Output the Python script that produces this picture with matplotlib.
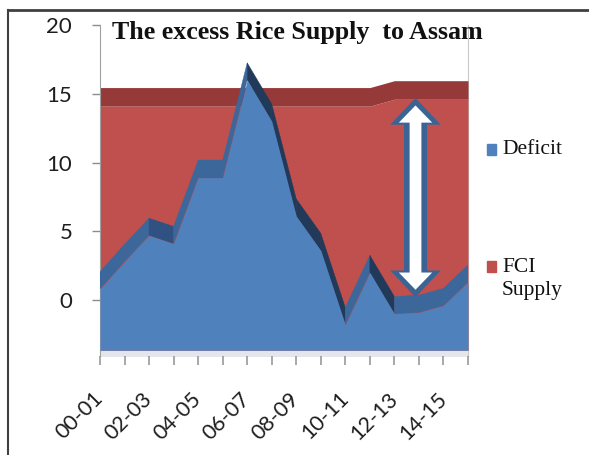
import numpy as np
import matplotlib.pyplot as plt
from matplotlib.patches import Polygon, Rectangle
from matplotlib.lines import Line2D

# data
years = ['00-01', '01-02', '02-03', '03-04', '04-05', '05-06', '06-07', '07-08',
         '08-09', '09-10', '10-11', '11-12', '12-13', '13-14', '14-15', '15-16']
deficit = [0.8, 2.8, 4.7, 4.1, 8.9, 8.9, 16.0, 13.0,
           6.1, 3.6, -1.8, 2.0, -1.0, -0.9, -0.4, 1.3]
fci_supply = [14.1, 14.1, 14.1, 14.1, 14.1, 14.1, 14.1, 14.1,
              14.1, 14.1, 14.1, 14.1, 14.6, 14.6, 14.6, 14.6]
yticks = [0, 5, 10, 15, 20]

# arrow showing the excess (category position, top, bottom)
arrow_x, arrow_top, arrow_bot = 12.86, 14.7, 0.2

FLOOR = -3.65
DEPTH = 1.25

BLUE = '#4f81bd'
BLUE_UP = '#3c679b'
BLUE_MID = '#2f5283'
BLUE_DOWN = '#213a5a'
RED = '#c0504d'
RED_TOP = '#953a38'

fig = plt.figure(figsize=(5.89, 4.55), dpi=100)
ax = fig.add_axes([100/589, 1-356/455, 368/589, 331/455])

x = np.arange(len(years))
dfc = np.array(deficit)
fci = np.array(fci_supply)

# back series (FCI supply) with its top band
ax.fill_between(x, FLOOR, fci, color=RED, lw=0, zorder=2)
ax.fill_between(x, fci, fci + DEPTH + 0.1, color=RED_TOP, lw=0, zorder=2)

# top band of the deficit area, shaded by slope
for i in range(len(x) - 1):
    y0, y1 = dfc[i], dfc[i+1]
    if y1 < y0 - 1.5:
        col = BLUE_DOWN
    elif y1 < y0 - 0.3:
        col = BLUE_MID
    else:
        col = BLUE_UP
    ax.add_patch(Polygon([(x[i], y0), (x[i+1], y1), (x[i+1], y1 + DEPTH), (x[i], y0 + DEPTH)],
                         closed=True, color=col, lw=0.3, zorder=3))
ax.fill_between(x, FLOOR, dfc, color=BLUE, lw=0, zorder=4)

# floor strip
ax.fill_between([0, 15], -4.2, FLOOR, color='#e3e7ec', lw=0, zorder=1)

# double headed arrow, sizes in data units
def arrow_poly(cx, top, bot, sw, hw, hl):
    return [(cx, top), (cx + hw, top - hl), (cx + sw, top - hl), (cx + sw, bot + hl),
            (cx + hw, bot + hl), (cx, bot), (cx - hw, bot + hl), (cx - sw, bot + hl),
            (cx - sw, top - hl), (cx - hw, top - hl)]

ax.add_patch(Polygon(arrow_poly(arrow_x, arrow_top, arrow_bot, 0.47, 1.03, 1.95),
                     closed=True, color='#3b6494', lw=0, zorder=6))
ax.add_patch(Polygon(arrow_poly(arrow_x, arrow_top - 0.55, arrow_bot + 0.55, 0.24, 0.68, 1.25),
                     closed=True, color='white', lw=0, zorder=7))

ax.set_xlim(0, 15)
ax.set_ylim(-4.07, 20)
ax.set_yticks(yticks)
ax.set_yticklabels([str(v) for v in yticks], fontsize=16, family='Lato', color='#1e1e1e')
ax.set_xticks(x)
ax.set_xticklabels([y if i % 2 == 0 else '' for i, y in enumerate(years)],
                   fontsize=15.5, family='Lato', color='#1e1e1e',
                   rotation=45, ha='right', va='center', rotation_mode='anchor')
ax.tick_params(axis='y', length=6, width=1, color='#8c8c8c', pad=14)
ax.tick_params(axis='x', length=6.5, width=1.2, color='#9a9a9a', pad=22)

for s in ['top', 'bottom']:
    ax.spines[s].set_visible(False)
ax.spines['left'].set_color('#a0a0a0')
ax.spines['right'].set_color('#c8c8c8')
ax.spines['right'].set_linewidth(0.8)
ax.spines['right'].set_zorder(0)

fig.text(112/589, 1-33/455, 'The excess Rice Supply  to Assam', family='Liberation Serif',
         weight='bold', fontsize=18.7, va='center', ha='left', color='#111111')

# legend
fig.add_artist(Rectangle((487/589, 1-155/455), 9/589, 11/455, color=BLUE, transform=fig.transFigure))
fig.text(502/589, 1-150/455, 'Deficit', family='Liberation Serif', fontsize=15.5,
         va='center', ha='left', color='#111111')
fig.add_artist(Rectangle((487/589, 1-272/455), 9/589, 11/455, color=RED, transform=fig.transFigure))
fig.text(502/589, 1-267/455, 'FCI', family='Liberation Serif', fontsize=15.5,
         va='center', ha='left', color='#111111')
fig.text(502/589, 1-290/455, 'Supply', family='Liberation Serif', fontsize=15.5,
         va='center', ha='left', color='#111111')

# outer frame (top and left only)
fig.add_artist(Line2D([8/589, 1], [1-10/455, 1-10/455], color='#404040', lw=2))
fig.add_artist(Line2D([8/589, 8/589], [0, 1-10/455], color='#404040', lw=1.5))

fig.savefig('out.png', dpi=100)
